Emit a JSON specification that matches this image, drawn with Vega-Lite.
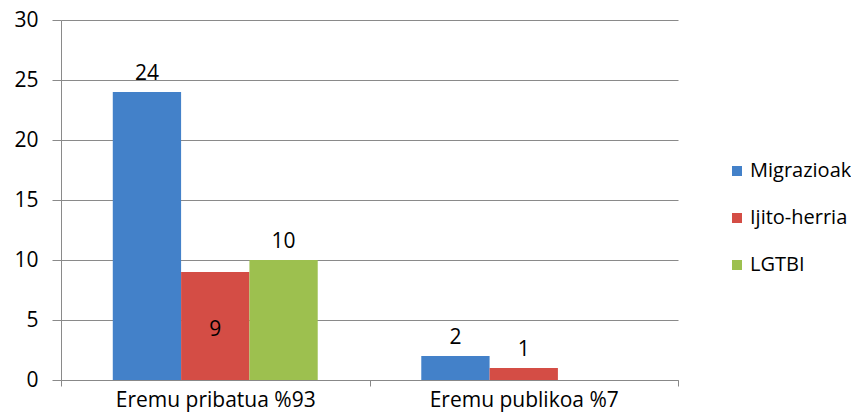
{
  "$schema": "https://vega.github.io/schema/vega-lite/v6.json",
  "autosize": "none",
  "width": 617,
  "height": 360,
  "padding": {"left": 61, "top": 20, "right": 173, "bottom": 35},
  "background": "white",
  "config": {
    "font": "Open Sans",
    "view": {"stroke": null},
    "axis": {"labelFont": "Open Sans", "labelColor": "#000", "labelFontSize": 21}
  },
  "data": {
    "values": [
      {"category": "Eremu pribatua %93", "series": "Migrazioak", "value": 24},
      {"category": "Eremu pribatua %93", "series": "Ijito-herria", "value": 9},
      {"category": "Eremu pribatua %93", "series": "LGTBI", "value": 10},
      {"category": "Eremu publikoa %7", "series": "Migrazioak", "value": 2},
      {"category": "Eremu publikoa %7", "series": "Ijito-herria", "value": 1},
      {"category": "Eremu publikoa %7", "series": "LGTBI", "value": 0}
    ]
  },
  "encoding": {
    "x": {
      "field": "category", "type": "nominal", "sort": null,
      "scale": {"paddingInner": 0, "paddingOuter": 0},
      "axis": {"title": null, "labelAngle": 0, "labelLimit": 400, "tickBand": "extent", "tickSize": 6, "tickColor": "#888", "domainColor": "#888", "labelPadding": 3, "grid": false}
    },
    "xOffset": {
      "field": "series", "type": "nominal", "sort": ["Migrazioak", "Ijito-herria", "LGTBI"],
      "scale": {"paddingInner": 0, "paddingOuter": 0.758}
    },
    "y": {
      "field": "value", "type": "quantitative",
      "scale": {"domain": [0, 30], "nice": false},
      "axis": {"title": null, "values": [0, 5, 10, 15, 20, 25, 30], "grid": true, "gridColor": "#8a8a8a", "gridOpacity": 1, "tickSize": 9, "tickColor": "#8a8a8a", "domainColor": "#8a8a8a", "labelPadding": 14}
    }
  },
  "layer": [
    {
      "mark": {"type": "bar", "stroke": null},
      "encoding": {
        "color": {
          "field": "series", "type": "nominal",
          "sort": ["Migrazioak", "Ijito-herria", "LGTBI"],
          "scale": {"domain": ["Migrazioak", "Ijito-herria", "LGTBI"], "range": ["#4381c9", "#d44d45", "#9dc04f"]},
          "legend": {
            "title": null, "orient": "none", "legendX": 666, "legendY": 141,
            "symbolType": "square", "symbolSize": 100, "symbolStrokeWidth": 0.5,
            "labelFontSize": 20, "labelFont": "Open Sans", "labelColor": "#000", "rowPadding": 27, "labelOffset": 3
          }
        }
      }
    },
    {
      "transform": [{"filter": "datum.value > 0 && datum.value != 9"}],
      "mark": {"type": "text", "baseline": "alphabetic", "dy": -12, "fontSize": 21, "color": "#000"},
      "encoding": {"text": {"field": "value", "type": "quantitative"}}
    },
    {
      "transform": [{"filter": "datum.value == 9"}],
      "mark": {"type": "text", "baseline": "alphabetic", "dy": 64, "fontSize": 21, "color": "#000"},
      "encoding": {"text": {"field": "value", "type": "quantitative"}}
    }
  ]
}
